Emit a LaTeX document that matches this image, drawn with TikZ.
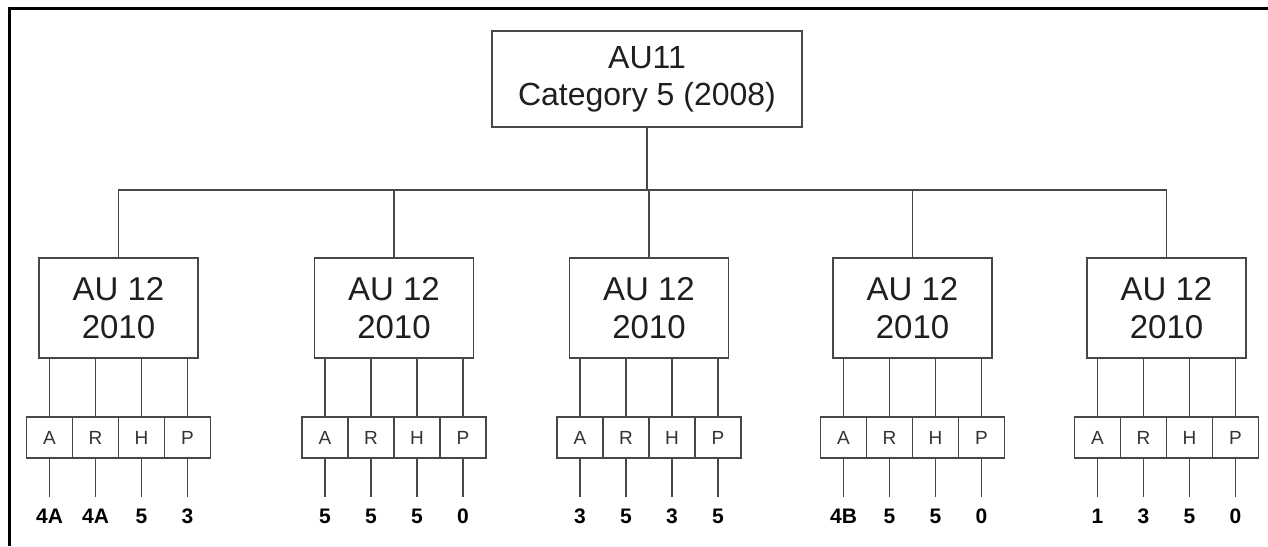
\documentclass[tikz,border=0pt]{standalone}
\usepackage{fontspec}
\setmainfont{Liberation Sans}
\begin{document}
\begin{tikzpicture}[x=1pt,y=-1pt,
  conn/.style={draw=black!72, line width=1.3pt},
  box/.style={draw=black!72, line width=1.3pt, rectangle, inner sep=0pt, align=center, text=black!88},
  topbox/.style={box, minimum width=310pt, minimum height=96pt, font=\fontsize{32}{37}\selectfont},
  childbox/.style={box, minimum width=159pt, minimum height=100pt, font=\fontsize{33}{38}\selectfont},
  cellbox/.style={box, minimum width=46pt, minimum height=41pt, font=\fontsize{19}{22}\selectfont, text=black!80},
  lab/.style={inner sep=0pt, text height=15pt, text depth=0pt, font=\fontsize{21}{24}\selectfont\bfseries}
]
\useasboundingbox (0,0) rectangle (1268,546);
\draw[line width=3pt] (9.5,546) -- (9.5,8.5) -- (1268,8.5);

\node[topbox] (top) at (647,79) {AU11\\Category 5 (2008)};
\coordinate (bus) at (0,190);

\foreach \cx/\la/\lb/\lc/\ld [count=\i] in {118.5/4A/4A/5/3, 394/5/5/5/0, 649/3/5/3/5, 912.5/4B/5/5/0, 1166.5/1/3/5/0} {
  \node[childbox] (c\i) at (\cx,308) {AU 12\\2010};
  \draw[conn] (top.south) -- (top.south |- bus) -| (c\i.north);
  \foreach \L/\dx/\v in {A/-69/\la, R/-23/\lb, H/23/\lc, P/69/\ld} {
    \node[cellbox] (c\i\L) at (\cx+\dx,437.5) {\L};
    \draw[conn] (c\i.south -| c\i\L) -- (c\i\L.north);
    \node[lab] (l\i\L) at (\cx+\dx,515.5) {\v};
    \draw[conn, shorten >=11pt] (c\i\L.south) -- (l\i\L.north);
  }
}
\end{tikzpicture}
\end{document}
